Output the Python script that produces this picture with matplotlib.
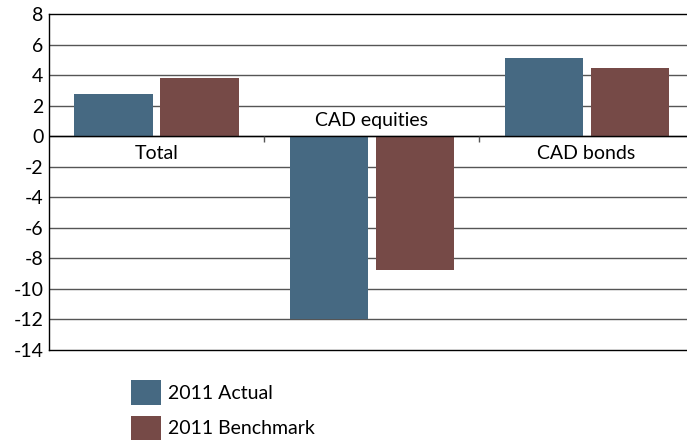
import matplotlib.pyplot as plt
from matplotlib.patches import Patch
import numpy as np

plt.rcParams['font.family'] = ['Lato', 'DejaVu Sans']

categories = ["Total", "CAD equities", "CAD bonds"]
actual = [2.75, -12.0, 5.15]
benchmark = [3.8, -8.75, 4.45]
series_names = ["2011 Actual", "2011 Benchmark"]
colors = ["#466982", "#764A47"]

fig = plt.figure(figsize=(6.87, 4.44), dpi=100)
ax = fig.add_axes([49 / 687, 1 - 350 / 444, 1 - 49 / 687, 336 / 444])

x = np.arange(len(categories))
w = 0.363
ax.bar(x - 0.2, actual, w, color=colors[0], zorder=3)
ax.bar(x + 0.2, benchmark, w, color=colors[1], zorder=3)

ax.set_xlim(-0.5, 2.467)
ax.set_ylim(-14, 8)
ax.set_yticks(range(-14, 9, 2))
ax.set_yticklabels([str(v) for v in range(-14, 9, 2)], fontsize=14)
ax.tick_params(axis='y', length=0, pad=4)
ax.set_xticks([])

for v in range(-12, 8, 2):
    ax.axhline(v, color='#555555', lw=1, zorder=1)
ax.axhline(0, color='black', lw=1, zorder=4)

# category separators on the zero line
ax.vlines([0.5, 1.5], -0.35, 0, color='#555555', lw=1, zorder=4)

# category labels on the side opposite the bars
for i, name in enumerate(categories):
    if min(actual[i], benchmark[i]) < 0:
        ax.text(i, 0.5, name, ha='center', va='bottom', fontsize=14, zorder=5)
    else:
        ax.text(i, -0.55, name, ha='center', va='top', fontsize=14, zorder=5)

for side in ['left', 'top', 'bottom']:
    ax.spines[side].set_color('black')
    ax.spines[side].set_linewidth(1)
ax.spines['right'].set_visible(False)

handles = [Patch(facecolor=c, edgecolor='none') for c in colors]
fig.legend(handles, series_names, loc='upper left', bbox_to_anchor=(113 / 687, 1 - 363 / 444),
           frameon=False, fontsize=14, handlelength=1.55, handleheight=1.55,
           labelspacing=0.55, handletextpad=0.4)

fig.savefig("out.png", dpi=100)
